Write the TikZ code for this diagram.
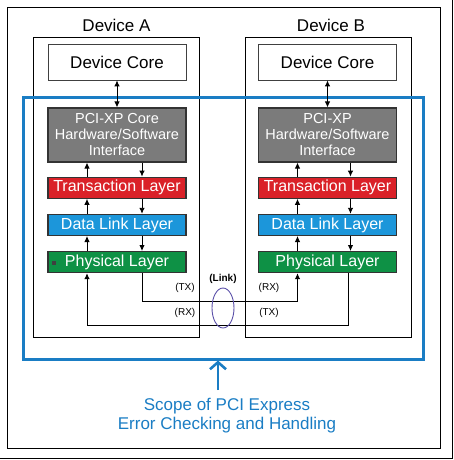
\documentclass[tikz,border=0pt]{standalone}
\usepackage{fontspec}
\setmainfont{Liberation Sans}
\usetikzlibrary{arrows.meta,positioning,shapes.geometric}

\definecolor{scopeblue}{HTML}{1A7DC4}
\definecolor{pcigray}{HTML}{7B7B7B}
\definecolor{tlred}{HTML}{DA2128}
\definecolor{dllblue}{HTML}{1C96DA}
\definecolor{phygreen}{HTML}{0E9145}
\definecolor{linkpurple}{HTML}{5A4FA8}

\tikzset{
  devframe/.style={draw, line width=1pt, minimum width=166pt, minimum height=299pt},
  devtitle/.style={font=\fontsize{17}{19}\selectfont},
  corebox/.style={draw=black!75, line width=0.8pt, minimum width=138pt, minimum height=36pt, font=\fontsize{17}{19}\selectfont},
  pcibox/.style={draw=black!80, fill=pcigray, line width=1.2pt, minimum width=138pt, minimum height=54pt, inner sep=0pt, text=white, align=center, font=\fontsize{14.5}{16}\selectfont},
  layer/.style={draw=black!80, line width=1.2pt, minimum width=138pt, minimum height=21pt, inner sep=0pt, text=white, font=\fontsize{16}{18}\selectfont},
  sig/.style={-{Latex[length=6pt,width=5.5pt]}, line width=0.9pt},
  bisig/.style={{Latex[length=6pt,width=5.5pt]}-{Latex[length=6pt,width=5.5pt]}, line width=0.9pt},
  sigtag/.style={font=\fontsize{10}{12}\selectfont, inner sep=0pt},
  scopearrow/.style={-{Straight Barb[length=7pt,width=16pt]}, line width=2.6pt, scopeblue},
}

\begin{document}
\begin{tikzpicture}[x=1pt,y=-1pt]
\useasboundingbox (0,0) rectangle (454,460);
% outer frame
\draw[line width=0.8pt] (7,7) rectangle (440,448);
\draw[line width=0.8pt] (452.5,0) -- (452.5,458) -- (0,458);

% device A
\node[devframe] (devA) at (116,187.5) {};
\node[devtitle] (titleA) at (116.5,25) {Device A};
\node[corebox] (coreA) at (117,62) {Device Core};
\node[pcibox, below=27pt of coreA] (pciA) {PCI-XP Core\\Hardware/Software\\Interface};
\node[layer, fill=tlred, below=14pt of pciA] (tlA) {Transaction Layer};
\node[layer, fill=dllblue, below=15pt of tlA] (dllA) {Data Link Layer};
\node[layer, fill=phygreen, below=15pt of dllA] (phyA) {Physical Layer};
\fill[black!75] (52,261) rectangle (56,265);

% device B
\node[devframe] (devB) at (328.5,187.5) {};
\node[devtitle] (titleB) at (331,25) {Device B};
\node[corebox] (coreB) at (327.5,62) {Device Core};
\node[pcibox, below=27pt of coreB] (pciB) {PCI-XP\\Hardware/Software\\Interface};
\node[layer, fill=tlred, below=14pt of pciB] (tlB) {Transaction Layer};
\node[layer, fill=dllblue, below=15pt of tlB] (dllB) {Data Link Layer};
\node[layer, fill=phygreen, below=15pt of dllB] (phyB) {Physical Layer};

% scope of error checking
\node[draw=scopeblue, line width=3pt, minimum width=400pt, minimum height=262pt] (scope) at (223,228) {};

% arrows inside the devices
\draw[bisig] (coreA) -- (pciA);
\draw[bisig] (coreB) -- (pciB);
\draw[sig] ([xshift=-30pt]tlA.north) -- ([xshift=-30pt]pciA.south);
\draw[sig] ([xshift=25pt]pciA.south) -- ([xshift=25pt]tlA.north);
\draw[sig] ([xshift=-30pt]dllA.north) -- ([xshift=-30pt]tlA.south);
\draw[sig] ([xshift=25pt]tlA.south) -- ([xshift=25pt]dllA.north);
\draw[sig] ([xshift=-30pt]phyA.north) -- ([xshift=-30pt]dllA.south);
\draw[sig] ([xshift=25pt]dllA.south) -- ([xshift=25pt]phyA.north);
\draw[sig] ([xshift=-30pt]tlB.north) -- ([xshift=-30pt]pciB.south);
\draw[sig] ([xshift=23pt]pciB.south) -- ([xshift=23pt]tlB.north);
\draw[sig] ([xshift=-30pt]dllB.north) -- ([xshift=-30pt]tlB.south);
\draw[sig] ([xshift=23pt]tlB.south) -- ([xshift=23pt]dllB.north);
\draw[sig] ([xshift=-30pt]phyB.north) -- ([xshift=-30pt]dllB.south);
\draw[sig] ([xshift=23pt]dllB.south) -- ([xshift=23pt]phyB.north);

% the link
\draw[sig] ([xshift=25pt]phyA.south) -- ++(0,28) -| ([xshift=-30pt]phyB.south);
\draw[sig] ([xshift=21pt]phyB.south) -- ++(0,52) -| ([xshift=-30pt]phyA.south);
\node[ellipse, draw=linkpurple, line width=0.9pt, inner sep=0pt, minimum width=22pt, minimum height=40pt] (link) at (223,308) {};
\node[sigtag, font=\fontsize{10}{12}\selectfont\bfseries, above=4pt of link] (linktag) {(Link)};
\node[sigtag] (txA) at (185,288) {(TX)};
\node[sigtag] (rxB) at (269,288) {(RX)};
\node[sigtag] (rxA) at (185,313) {(RX)};
\node[sigtag] (txB) at (269,313) {(TX)};

% caption
\node[text=scopeblue, align=center, font=\fontsize{17}{19}\selectfont] (scopetxt) at (227,416) {Scope of PCI Express\\Error Checking and Handling};
\coordinate (arrowtail) at (218,390);
\draw[scopearrow] (arrowtail) -- (arrowtail |- scope.south);
\end{tikzpicture}
\end{document}
